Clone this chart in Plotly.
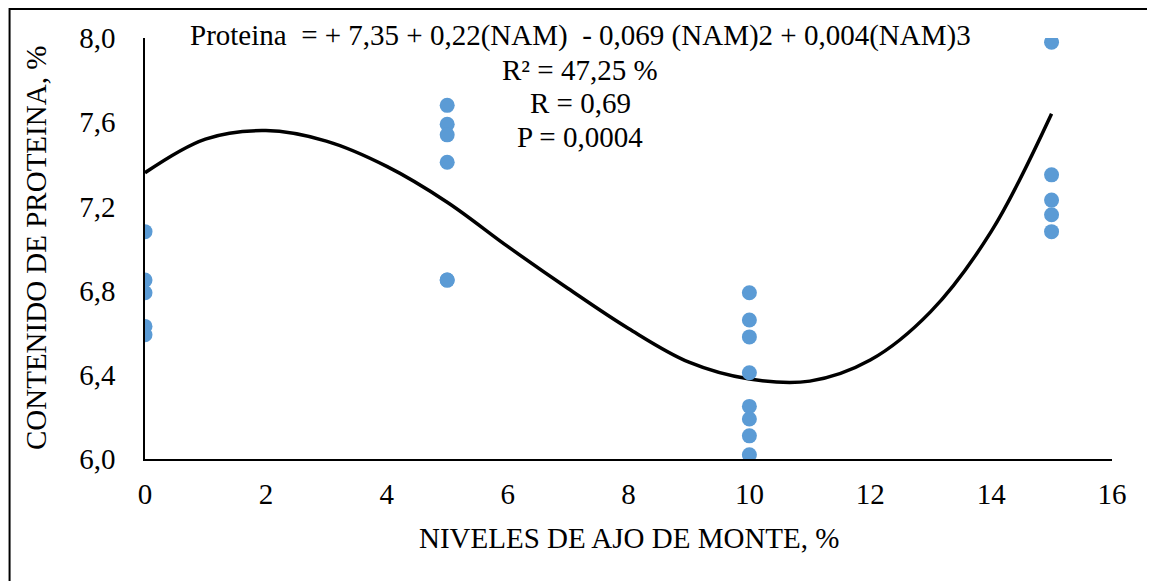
import plotly.graph_objects as go

nivel = [0, 0, 0, 0, 0,
         5, 5, 5, 5, 5, 5,
         10, 10, 10, 10, 10, 10, 10, 10,
         15, 15, 15, 15, 15]
proteina = [7.08, 6.85, 6.79, 6.63, 6.59,
            7.68, 7.59, 7.54, 7.41, 6.85, 6.85,
            6.79, 6.66, 6.58, 6.41, 6.25, 6.19, 6.11, 6.02,
            7.98, 7.35, 7.23, 7.16, 7.08]

# Trend curve
curve_x = [0, 1, 2, 3, 4, 5, 6, 7, 8, 9, 10, 11, 12, 13, 14, 15]
curve_y = [7.36, 7.52, 7.56, 7.51, 7.39, 7.22, 7.01, 6.81, 6.62, 6.46,
           6.38, 6.37, 6.47, 6.70, 7.08, 7.64]

x_ticks = [0, 2, 4, 6, 8, 10, 12, 14, 16]
y_ticks = [6.0, 6.4, 6.8, 7.2, 7.6, 8.0]

stats_lines = [
    "Proteina\u00a0 = + 7,35 + 0,22(NAM)\u00a0 - 0,069 (NAM)2 + 0,004(NAM)3",
    "R² = 47,25 %",
    "R = 0,69",
    "P = 0,0004",
]

FONT = "Liberation Serif, Times New Roman, serif"
FS = 29

# the page body has an 8px margin; work in screen pixels and shift
OFF = 8
W, H = 1155 - OFF, 581 - OFF
L, R, T, B = 144.5 - OFF, 1112 - OFF, 38 - OFF, 459 - OFF

fig = go.Figure()
fig.add_trace(go.Scatter(
    x=curve_x, y=curve_y, mode="lines",
    line=dict(color="black", width=3.5, shape="spline"),
    hoverinfo="skip", showlegend=False,
))
fig.add_trace(go.Scatter(
    x=nivel, y=proteina, mode="markers",
    marker=dict(color="#5B9BD5", size=15),
    showlegend=False,
))

fig.update_layout(
    width=W, height=H,
    margin=dict(l=L, r=W - R, t=T, b=H - B, pad=0),
    paper_bgcolor="white", plot_bgcolor="white",
    separators=",.",
    font=dict(family=FONT, color="black", size=FS),
    xaxis=dict(range=[0, 16], tickvals=x_ticks, showgrid=False, zeroline=False,
               showline=True, linecolor="black", linewidth=1.5,
               ticks="", ticklabelstandoff=8,
               tickfont=dict(family=FONT, size=FS, color="black")),
    yaxis=dict(range=[6.0, 8.0], tickvals=y_ticks, tickformat=".1f",
               showgrid=False, zeroline=False,
               showline=True, linecolor="black", linewidth=1.5,
               ticks="", ticklabelstandoff=22,
               tickfont=dict(family=FONT, size=FS, color="black")),
)

pw, ph = R - L, B - T
def px(xs):
    return (xs - OFF - L) / pw
def py(ys):
    return (B - (ys - OFF)) / ph

# axis titles
fig.add_annotation(text="NIVELES DE AJO DE MONTE, %", xref="paper", yref="paper",
                   x=0.5, y=py(538), xanchor="center", yanchor="middle",
                   showarrow=False, font=dict(family=FONT, size=FS, color="black"))
fig.add_annotation(text="CONTENIDO DE PROTEINA, %", xref="paper", yref="paper",
                   x=px(35), y=py(248.5), xanchor="center", yanchor="middle",
                   textangle=-90, showarrow=False,
                   font=dict(family=FONT, size=FS, color="black"))

# equation and statistics
stat_y = [36, 70, 103, 137]
for txt, ys in zip(stats_lines, stat_y):
    fig.add_annotation(text=txt, xref="paper", yref="paper",
                       x=px(580), y=py(ys), xanchor="center", yanchor="middle",
                       showarrow=False, font=dict(family=FONT, size=FS, color="black"))

# outer border (top and left edges visible)
fig.add_shape(type="rect", xref="paper", yref="paper",
              x0=px(9), x1=px(1250), y0=py(700), y1=py(9),
              line=dict(color="black", width=2), fillcolor="rgba(0,0,0,0)", layer="below")

fig.write_html("out.html")
